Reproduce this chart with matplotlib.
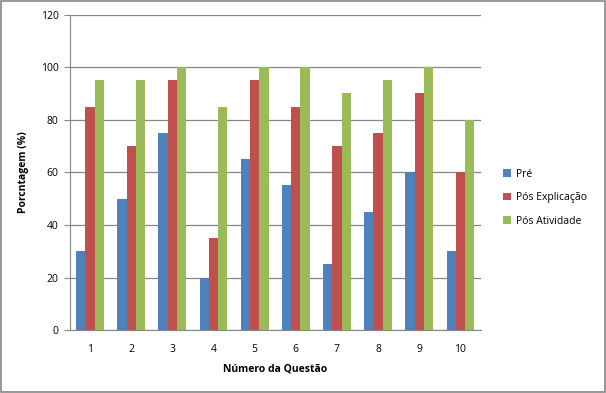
import numpy as np
import matplotlib.pyplot as plt
from matplotlib.patches import Rectangle

questoes = ['1', '2', '3', '4', '5', '6', '7', '8', '9', '10']
pre = [30, 50, 75, 20, 65, 55, 25, 45, 60, 30]
pos_explicacao = [85, 70, 95, 35, 95, 85, 70, 75, 90, 60]
pos_atividade = [95, 95, 100, 85, 100, 100, 90, 95, 100, 80]

series = [('Pré', pre, '#4F81BD'),
          ('Pós Explicação', pos_explicacao, '#C0504D'),
          ('Pós Atividade', pos_atividade, '#9BBB59')]

plt.rcParams['font.family'] = ['Open Sans', 'DejaVu Sans']

fig = plt.figure(figsize=(6.06, 3.93), dpi=100)
ax = fig.add_axes([0.1147, 0.160, 0.679, 0.803])

x = np.arange(len(questoes))
w = 0.225
for i, (nome, vals, cor) in enumerate(series):
    ax.bar(x + (i - 1) * w, vals, width=w, color=cor, label=nome, zorder=3)

ax.set_xlim(-0.5, len(questoes) - 0.5)
ax.set_ylim(0, 120)
ax.set_yticks(range(0, 121, 20))
ax.set_xticks(x)
ax.set_xticklabels(questoes)
ax.yaxis.grid(True, color='#868686', linewidth=0.9, zorder=0)
for s in ['top', 'right']:
    ax.spines[s].set_visible(False)
for s in ['left', 'bottom']:
    ax.spines[s].set_color('#868686')
ax.tick_params(axis='y', length=4, color='#868686', labelsize=7.5, pad=4)
ax.tick_params(axis='x', length=0, labelsize=7.5, pad=10)

ax.set_xlabel('Número da Questão', fontsize=7.5, fontweight='bold', labelpad=6)
ax.set_ylabel('Porcntagem (%)', fontsize=7.5, fontweight='bold', labelpad=8)

fig.legend(loc='center left', bbox_to_anchor=(0.815, 0.497), frameon=False,
           fontsize=7.5, handlelength=0.7, handleheight=0.7, handletextpad=0.5,
           labelspacing=1.2)

fig.patches.append(Rectangle((0.001, 0.002), 0.997, 0.996, transform=fig.transFigure,
                             fill=False, edgecolor='#868686', linewidth=1.2))

fig.savefig('out.png', dpi=100)
